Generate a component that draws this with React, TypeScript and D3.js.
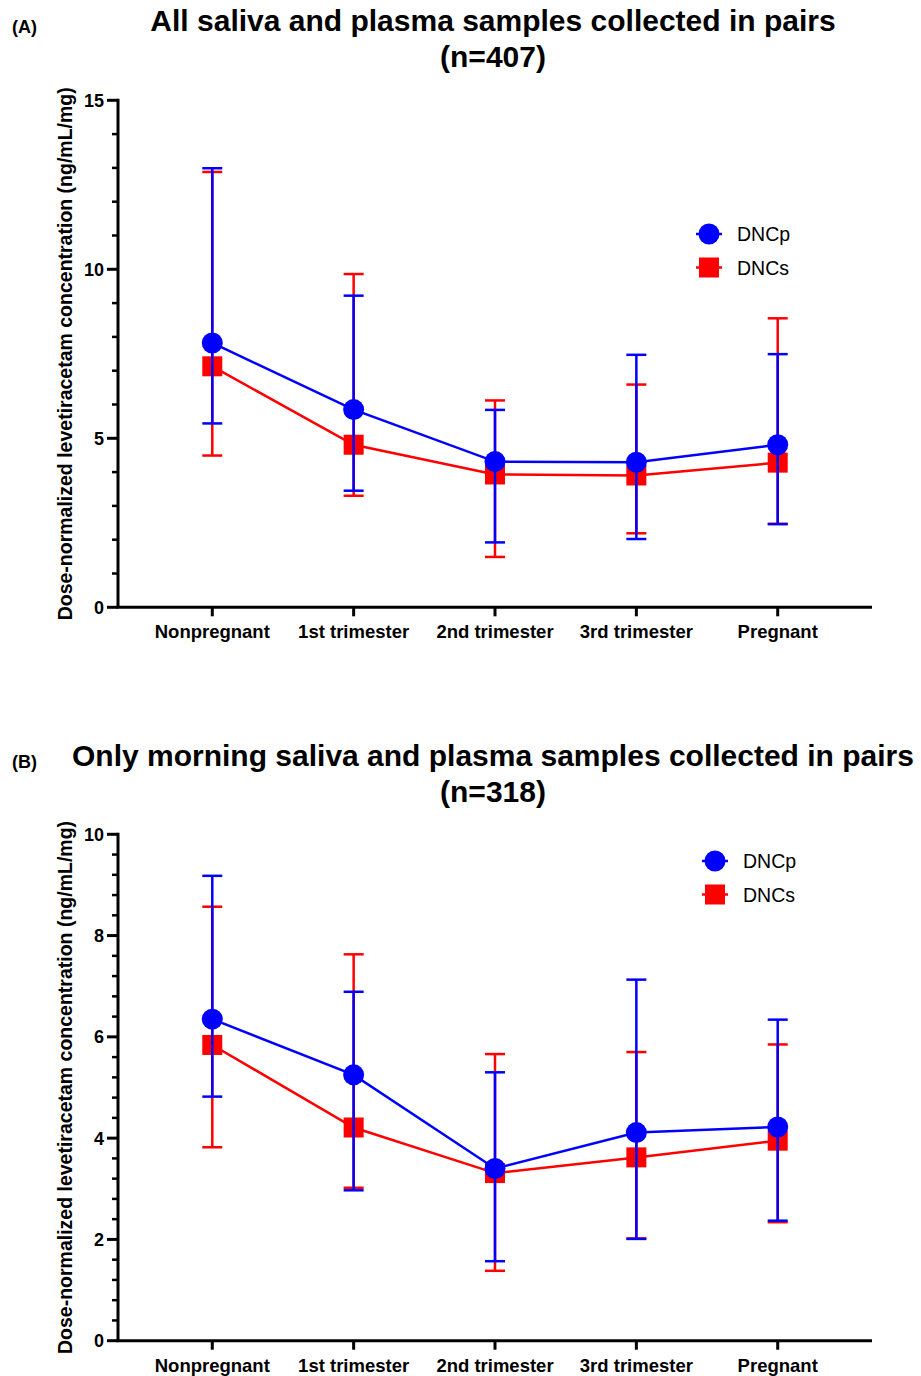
import React from "react";
import * as d3 from "d3";

const categories = ["Nonpregnant", "1st trimester", "2nd trimester", "3rd trimester", "Pregnant"];

// Panel A (all samples, n=407)
const aDNCpMean = [7.82, 5.85, 4.31, 4.29, 4.81];
const aDNCpUpper = [12.99, 9.22, 5.84, 7.47, 7.49];
const aDNCpLower = [5.44, 3.45, 1.92, 2.02, 2.46];
const aDNCsMean = [7.13, 4.81, 3.93, 3.9, 4.28];
const aDNCsUpper = [12.88, 9.86, 6.12, 6.59, 8.55];
const aDNCsLower = [4.49, 3.3, 1.49, 2.19, 2.47];

// Panel B (morning samples, n=318)
const bDNCpMean = [6.35, 5.25, 3.4, 4.11, 4.22];
const bDNCpUpper = [9.18, 6.89, 5.3, 7.13, 6.34];
const bDNCpLower = [4.82, 2.97, 1.57, 2.01, 2.37];
const bDNCsMean = [5.84, 4.21, 3.31, 3.62, 3.95];
const bDNCsUpper = [8.57, 7.63, 5.66, 5.7, 5.85];
const bDNCsLower = [3.82, 3.02, 1.38, 2.02, 2.34];

const aMajorTicks = [0, 5, 10, 15];
const bMajorTicks = [0, 2, 4, 6, 8, 10];

const seriesNames = ["DNCp", "DNCs"];
const BLUE = "#0000ff";
const RED = "#ff0000";
const FONT = "'Liberation Sans', Arial, Helvetica, sans-serif";
const yTitle = "Dose-normalized levetiracetam concentration (ng/mL/mg)";

type Series = { name: string; mean: number[]; upper: number[]; lower: number[]; color: string; shape: "circle" | "square" };

function Marker({ shape, x, y, color }: { shape: string; x: number; y: number; color: string }) {
  if (shape === "circle") return <circle cx={x} cy={y} r={10.5} fill={color} />;
  return <rect x={x - 10} y={y - 10} width={20} height={20} fill={color} />;
}

function Panel({
  letter, titleLines, titleY, top, bottom, yMax, majorTicks, minorStep, series, legendX, legendY,
}: {
  letter: string; titleLines: string[]; titleY: number; top: number; bottom: number; yMax: number;
  majorTicks: number[]; minorStep: number; series: Series[]; legendX: number; legendY: number;
}) {
  const left = 118;
  const right = 872;
  const x = d3.scalePoint<string>().domain(categories).range([left, right]).padding(0.667);
  const y = d3.scaleLinear().domain([0, yMax]).range([bottom, top]);
  const minor = d3.range(0, yMax + 1e-6, minorStep).filter((v) => !majorTicks.some((m) => Math.abs(m - v) < 1e-6));
  const line = d3.line<number>().x((_, i) => x(categories[i]) as number).y((d) => y(d));
  const drawOrder = [...series].reverse();
  return (
    <g>
      <text x={12} y={titleY + 2} fontFamily={FONT} fontWeight="bold" fontSize={18} fill="#000">{letter}</text>
      {titleLines.map((t, i) => (
        <text key={i} x={493} y={titleY + i * 36} textAnchor="middle" fontFamily={FONT} fontWeight="bold" fontSize={30} fill="#000">{t}</text>
      ))}
      {/* y axis */}
      <line x1={left} x2={left} y1={y(0)} y2={y(yMax) - 1.5} stroke="#000" strokeWidth={3} />
      {majorTicks.map((t) => (
        <g key={"M" + t}>
          <line x1={left - 11} x2={left} y1={y(t)} y2={y(t)} stroke="#000" strokeWidth={3} />
          <text x={left - 14} y={y(t) + 6.5} textAnchor="end" fontFamily={FONT} fontWeight="bold" fontSize={18} fill="#000">{t}</text>
        </g>
      ))}
      {minor.map((t) => (
        <line key={"m" + t} x1={left - 6} x2={left} y1={y(t)} y2={y(t)} stroke="#000" strokeWidth={2.5} />
      ))}
      <text transform={`translate(72, ${(y(0) + y(yMax)) / 2}) rotate(-90)`} textAnchor="middle" fontFamily={FONT} fontWeight="bold" fontSize={19.5} fill="#000">{yTitle}</text>
      {/* x axis */}
      <line x1={left - 1.5} x2={right} y1={y(0)} y2={y(0)} stroke="#000" strokeWidth={3} />
      {categories.map((c) => (
        <g key={c}>
          <line x1={x(c)} x2={x(c)} y1={y(0)} y2={y(0) + 9} stroke="#000" strokeWidth={3} />
          <text x={x(c)} y={y(0) + 31} textAnchor="middle" fontFamily={FONT} fontWeight="bold" fontSize={18.5} fill="#000">{c}</text>
        </g>
      ))}
      {/* series: red first, blue on top */}
      {drawOrder.map((s) => (
        <g key={s.name}>
          {categories.map((c, i) => (
            <g key={c}>
              <line x1={x(c)} x2={x(c)} y1={y(s.upper[i])} y2={y(s.lower[i])} stroke={s.color} strokeWidth={2.5} />
              <line x1={(x(c) as number) - 10} x2={(x(c) as number) + 10} y1={y(s.upper[i])} y2={y(s.upper[i])} stroke={s.color} strokeWidth={2.5} />
              <line x1={(x(c) as number) - 10} x2={(x(c) as number) + 10} y1={y(s.lower[i])} y2={y(s.lower[i])} stroke={s.color} strokeWidth={2.5} />
            </g>
          ))}
          <path d={line(s.mean) as string} fill="none" stroke={s.color} strokeWidth={2.5} />
          {categories.map((c, i) => (
            <Marker key={c} shape={s.shape} x={x(c) as number} y={y(s.mean[i])} color={s.color} />
          ))}
        </g>
      ))}
      {/* legend */}
      {series.map((s, i) => (
        <g key={s.name} transform={`translate(${legendX}, ${legendY + i * 33.5})`}>
          <line x1={-13} x2={13} y1={0} y2={0} stroke={s.color} strokeWidth={2.5} />
          <Marker shape={s.shape} x={0} y={0} color={s.color} />
          <text x={28} y={7} fontFamily={FONT} fontSize={19.5} fill="#000">{s.name}</text>
        </g>
      ))}
    </g>
  );
}

export default function App() {
  const seriesA: Series[] = [
    { name: seriesNames[0], mean: aDNCpMean, upper: aDNCpUpper, lower: aDNCpLower, color: BLUE, shape: "circle" },
    { name: seriesNames[1], mean: aDNCsMean, upper: aDNCsUpper, lower: aDNCsLower, color: RED, shape: "square" },
  ];
  const seriesB: Series[] = [
    { name: seriesNames[0], mean: bDNCpMean, upper: bDNCpUpper, lower: bDNCpLower, color: BLUE, shape: "circle" },
    { name: seriesNames[1], mean: bDNCsMean, upper: bDNCsUpper, lower: bDNCsLower, color: RED, shape: "square" },
  ];
  return (
    <svg width={921} height={1376} style={{ position: "absolute", left: 0, top: 0, background: "#fff" }}>
      <rect width={921} height={1376} fill="#fff" />
      <Panel letter="(A)" titleLines={["All saliva and plasma samples collected in pairs", "(n=407)"]} titleY={31}
        top={100.3} bottom={607.3} yMax={15} majorTicks={aMajorTicks} minorStep={1} series={seriesA} legendX={709} legendY={234} />
      <Panel letter="(B)" titleLines={["Only morning saliva and plasma samples collected in pairs", "(n=318)"]} titleY={766}
        top={834.3} bottom={1340.7} yMax={10} majorTicks={bMajorTicks} minorStep={0.4} series={seriesB} legendX={715} legendY={861} />
    </svg>
  );
}
